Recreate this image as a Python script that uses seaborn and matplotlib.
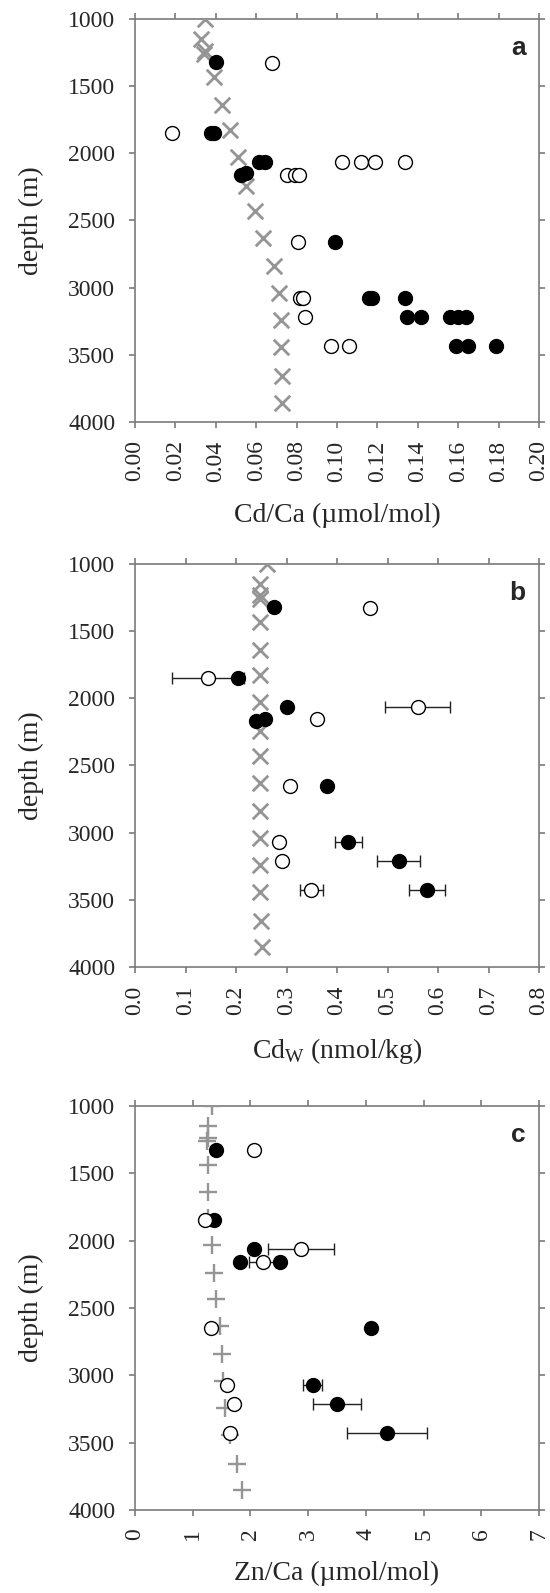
import numpy as np
import matplotlib
matplotlib.use("Agg")
import matplotlib.pyplot as plt
import seaborn as sns

# --- water-column profile depths (m) ---
water_depth = [1000, 1150, 1235, 1260, 1435, 1640, 1830, 2030, 2240, 2430,
               2630, 2840, 3040, 3240, 3440, 3655, 3855]
water_cdca = [0.0345, 0.0328, 0.0345, 0.0340, 0.0390, 0.0432, 0.0468, 0.0509,
              0.0550, 0.0594, 0.0636, 0.0686, 0.0714, 0.0722, 0.0722, 0.0726, 0.0730]
water_cdw = [0.261, 0.248, 0.248, 0.247, 0.248, 0.248, 0.248, 0.248, 0.248,
             0.248, 0.248, 0.248, 0.248, 0.248, 0.248, 0.249, 0.251]
water_znca = [1.34, 1.27, 1.27, 1.25, 1.27, 1.27, 1.27, 1.33, 1.36, 1.40,
              1.47, 1.50, 1.52, 1.56, 1.65, 1.76, 1.86]

# --- panel a: Cd/Ca of individual samples ---
a_fill_depth = [1320, 1850, 1850, 2160, 2150, 2065, 2065, 2660, 3075, 3075, 3075,
                3215, 3215, 3215, 3215, 3215, 3435, 3435, 3435]
a_fill_cdca = [0.0402, 0.0375, 0.0390, 0.0525, 0.0550, 0.0616, 0.0644, 0.0990,
               0.1158, 0.1174, 0.1338, 0.1346, 0.1417, 0.1560, 0.1598, 0.1637,
               0.1588, 0.1647, 0.1785]
a_open_depth = [1325, 1850, 2160, 2160, 2160, 2065, 2065, 2065, 2065, 2660,
                3075, 3075, 3215, 3435, 3435]
a_open_cdca = [0.0678, 0.0184, 0.0750, 0.0790, 0.0810, 0.1023, 0.1120, 0.1187,
               0.1338, 0.0805, 0.0818, 0.0832, 0.0842, 0.0972, 0.1059]

# --- panel b: Cd_W ---
b_fill_depth = [1320, 1850, 2065, 2170, 2152, 2656, 3071, 3208, 3426]
b_fill_cdw = [0.2745, 0.2036, 0.3008, 0.2397, 0.2575, 0.3796, 0.4223, 0.5222, 0.5780]
b_fill_err = [0, 0, 0, 0, 0, 0, 0.027, 0.043, 0.035]
b_open_depth = [1325, 1850, 2065, 2152, 2656, 3071, 3208, 3426]
b_open_cdw = [0.465, 0.1445, 0.5596, 0.361, 0.3074, 0.2857, 0.2903, 0.3494]
b_open_err = [0, 0.072, 0.064, 0, 0, 0, 0, 0.023]

# --- panel c: Zn/Ca ---
c_fill_depth = [1330, 1847, 2059, 2162, 2155, 2648, 3074, 3211, 3429]
c_fill_znca = [1.40, 1.376, 2.07, 1.82, 2.516, 4.095, 3.077, 3.50, 4.367]
c_fill_err = [0, 0, 0, 0, 0, 0, 0.17, 0.42, 0.69]
c_open_depth = [1330, 1847, 2059, 2155, 2648, 3074, 3211, 3429]
c_open_znca = [2.07, 1.215, 2.88, 2.21, 1.32, 1.59, 1.71, 1.65]
c_open_err = [0, 0, 0.57, 0.23, 0, 0, 0, 0]

a_xticks = [round(0.02 * i, 2) for i in range(11)]
b_xticks = [round(0.1 * i, 1) for i in range(9)]
c_xticks = list(range(8))
depth_ticks = [1000, 1500, 2000, 2500, 3000, 3500, 4000]

sns.set_style("ticks")
plt.rcParams["font.family"] = ["Liberation Serif", "DejaVu Serif"]
plt.rcParams["mathtext.fontset"] = "custom"
plt.rcParams["mathtext.rm"] = "Liberation Serif"

GREY = "#959595"
AXGREY = "#7a7a7a"

fig = plt.figure(figsize=(5.5, 15.93), dpi=100)
boxes = [
    [0.2455, 0.7351, 0.7345, 0.2530],
    [0.2455, 0.3930, 0.7345, 0.2530],
    [0.2455, 0.0521, 0.7345, 0.2536],
]


def errbars(ax, x, y, err):
    x = np.asarray(x, float); y = np.asarray(y, float); err = np.asarray(err, float)
    m = err > 0
    if m.any():
        ax.errorbar(x[m], y[m], xerr=err[m], fmt="none", ecolor="#222222",
                    elinewidth=1.0, capsize=4, capthick=1.0, zorder=2)


def style(ax, xticks, xlim, fmt, xlabel, letter):
    ax.set_ylim(4000, 1000)
    ax.set_xlim(*xlim)
    ax.set_yticks(depth_ticks)
    ax.set_xticks(xticks)
    ax.set_xticklabels([fmt.format(t) for t in xticks], rotation=90)
    ax.tick_params(axis="both", which="both", direction="out", length=4.3,
                   width=1.2, color=AXGREY, labelsize=17, top=True, right=True,
                   labeltop=False, labelright=False)
    ax.tick_params(axis="y", pad=10)
    ax.tick_params(axis="x", pad=9)
    for s in ax.spines.values():
        s.set_visible(True)
        s.set_color(AXGREY)
        s.set_linewidth(1.2)
    ax.set_ylabel("depth (m)", fontsize=20, labelpad=17)
    ax.set_xlabel(xlabel, fontsize=20, labelpad=15)
    ax.text(0.967, 0.928, letter, transform=ax.transAxes, ha="right", va="center",
            fontsize=19, fontweight="bold", family="Liberation Sans")


def markers(ax, wx, wd, wmarker, fx, fd, ox, od):
    if wmarker == "x":
        sns.scatterplot(x=wx, y=wd, ax=ax, marker="x", color=GREY, s=125,
                        linewidth=2.0, zorder=3, legend=False)
    else:
        sns.scatterplot(x=wx, y=wd, ax=ax, marker="+", color=GREY, s=170,
                        linewidth=1.7, zorder=3, legend=False)
    sns.scatterplot(x=fx, y=fd, ax=ax, marker="o", color="black", s=100,
                    edgecolor="black", linewidth=1.0, zorder=4, legend=False)
    sns.scatterplot(x=ox, y=od, ax=ax, marker="o", color="white", s=100,
                    edgecolor="black", linewidth=1.0, zorder=5, legend=False)


# panel a
ax = fig.add_axes(boxes[0])
markers(ax, water_cdca, water_depth, "x", a_fill_cdca, a_fill_depth,
        a_open_cdca, a_open_depth)
style(ax, a_xticks, (0, 0.2), "{:.2f}", "Cd/Ca (\u00b5mol/mol)", "a")

# panel b
ax = fig.add_axes(boxes[1])
errbars(ax, b_fill_cdw, b_fill_depth, b_fill_err)
errbars(ax, b_open_cdw, b_open_depth, b_open_err)
markers(ax, water_cdw, water_depth, "x", b_fill_cdw, b_fill_depth,
        b_open_cdw, b_open_depth)
style(ax, b_xticks, (0, 0.8), "{:.1f}", r"Cd$_{\mathrm{W}}$ (nmol/kg)", "b")

# panel c
ax = fig.add_axes(boxes[2])
errbars(ax, c_fill_znca, c_fill_depth, c_fill_err)
errbars(ax, c_open_znca, c_open_depth, c_open_err)
markers(ax, water_znca, water_depth, "+", c_fill_znca, c_fill_depth,
        c_open_znca, c_open_depth)
style(ax, c_xticks, (0, 7), "{:d}", "Zn/Ca (\u00b5mol/mol)", "c")

fig.savefig("out.png", dpi=100, facecolor="white")
